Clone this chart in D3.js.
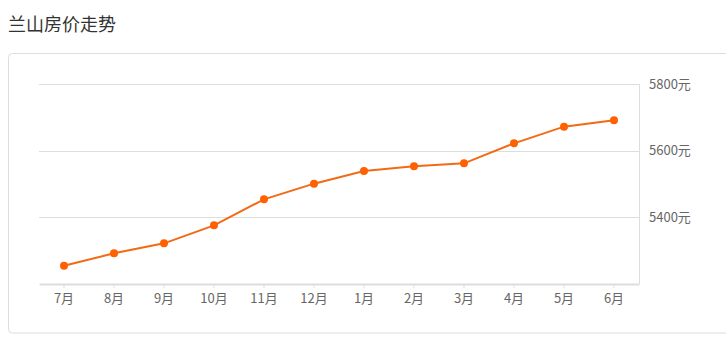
<!DOCTYPE html>
<html>
<head>
<meta charset="utf-8">
<script src="https://cdn.jsdelivr.net/npm/d3@7/dist/d3.min.js"></script>
<style>
html,body{margin:0;padding:0;background:#fff;}
svg{display:block;}
</style>
</head>
<body>
<svg id="chart" width="726" height="345"></svg>
<script>
const title = "兰山房价走势";
const categories = ["7月","8月","9月","10月","11月","12月","1月","2月","3月","4月","5月","6月"];
const prices = [5255,5292,5322,5376,5454,5501,5539,5553,5562,5622,5672,5691];
const yTicks = [5400,5600,5800];
const yDomain = [5200,5800];
const unit = "元";

(function(){
const svg = d3.select("#chart");
const font = "'Noto Sans CJK SC','Noto Sans',sans-serif";

svg.append("text").attr("x",8).attr("y",31)
  .attr("font-family",font).attr("font-size",18).attr("fill","#333")
  .text(title);

svg.append("rect").attr("x",8.5).attr("y",53.5).attr("width",740).attr("height",279.5)
  .attr("rx",4).attr("fill","#fff").attr("stroke","#ddd");

const pLeft=39, pRight=639, pTop=84, pBottom=284;
const x = d3.scaleBand().domain(categories).range([pLeft,pRight]);
const y = d3.scaleLinear().domain(yDomain).range([pBottom,pTop]);

const g = svg.append("g");
g.selectAll(".grid").data(yTicks).join("line")
  .attr("x1",pLeft).attr("x2",pRight)
  .attr("y1",d=>Math.round(y(d))+0.5).attr("y2",d=>Math.round(y(d))+0.5)
  .attr("stroke","#ddd").attr("stroke-width",1);
g.append("line").attr("x1",pRight+0.5).attr("x2",pRight+0.5)
  .attr("y1",Math.round(y(yDomain[1]))).attr("y2",pBottom)
  .attr("stroke","#ddd");

const yAxis = d3.axisRight(y).tickValues(yTicks).tickSize(0).tickPadding(10)
  .tickFormat(d=>d+unit);
const ya = g.append("g").attr("transform",`translate(${pRight},0)`).call(yAxis);
ya.select(".domain").remove();
ya.selectAll("text").attr("font-family",font).attr("font-size",13).attr("fill","#666");

const xAxis = d3.axisBottom(x).tickSize(4).tickPadding(6).tickSizeOuter(0);
const xa = g.append("g").attr("transform",`translate(0,${pBottom})`).call(xAxis);
xa.select(".domain").attr("stroke","#ddd").attr("stroke-width",2);
xa.selectAll(".tick line").attr("stroke","#ddd");
xa.selectAll("text").attr("font-family",font).attr("font-size",13).attr("fill","#666");

const cx = d=>x(d)+x.bandwidth()/2;
const line = d3.line().x((d,i)=>cx(categories[i])).y(d=>y(d));
g.append("path").datum(prices).attr("d",line)
  .attr("fill","none").attr("stroke","#f26a14").attr("stroke-width",2);
g.selectAll(".pt").data(prices).join("circle")
  .attr("cx",(d,i)=>cx(categories[i])).attr("cy",d=>y(d)).attr("r",4)
  .attr("fill","#ff6000");
})();
</script>
</body>
</html>
